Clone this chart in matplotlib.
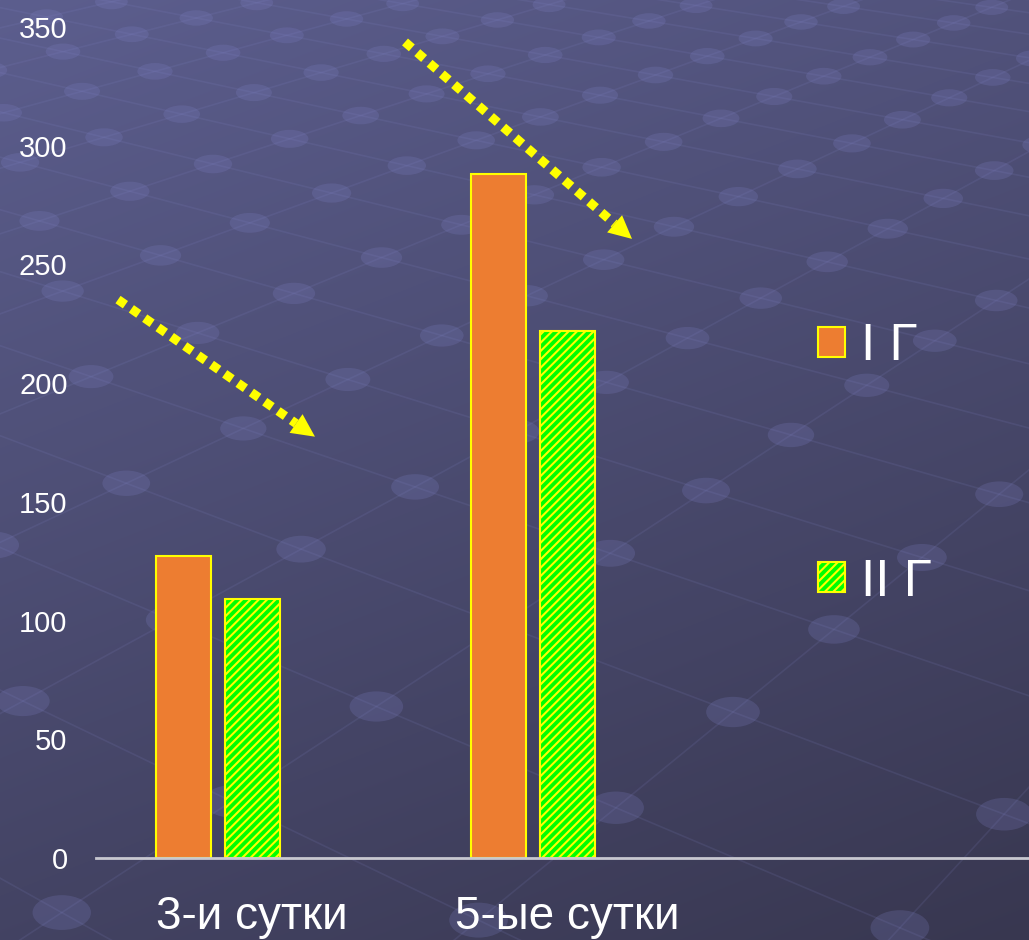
import numpy as np
import matplotlib.pyplot as plt
from matplotlib.patches import Ellipse
from matplotlib.collections import LineCollection
from matplotlib.transforms import ScaledTranslation

plt.rcParams['font.family'] = ['Liberation Sans', 'DejaVu Sans']
plt.rcParams['hatch.linewidth'] = 1.5

# данные
categories = ['3-и сутки', '5-ые сутки']
group_1 = [127, 288]
group_2 = [109, 222]
series_labels = ['I Г', 'II Г']
yticks = [0, 50, 100, 150, 200, 250, 300, 350]

ORANGE = '#ED7D31'
GREEN = '#00FF00'
YELLOW = '#FFFF00'

W, H = 1029, 940
fig = plt.figure(figsize=(W / 100, H / 100), dpi=100)

# --- фон: градиент + "сетка с точками" в перспективе ---
bg = fig.add_axes([0, 0, 1, 1], zorder=0)
bg.set_xlim(0, W)
bg.set_ylim(H, 0)
bg.axis('off')

yy, xx = np.mgrid[0:H, 0:W]
t = 0.3 * xx / W + 0.7 * yy / H
c_top = np.array([92, 94, 142]) / 255
c_bot = np.array([56, 55, 80]) / 255
bg.imshow(c_top + (c_bot - c_top) * t[..., None], extent=(0, W, H, 0),
          aspect='auto', interpolation='bilinear')

VA = np.array([-2450.0, -488.0])
VB = np.array([2200.0, -488.0])
O = np.array([733.0, 712.0])
k1, k2 = 0.0785, 0.0739


def proj(u, v):
    d = 1 + k1 * u + k2 * v
    px = (k1 * u * VA[0] + k2 * v * VB[0] + O[0]) / d
    py = (k1 * u * VA[1] + k2 * v * VB[1] + O[1]) / d
    return px, py, d


segs = []
for n in range(-25, 45):
    # линии вдоль u (к левой точке схода)
    u_lo = (0.35 - 1 - k2 * n) / k1
    x0, y0, _ = proj(u_lo, n)
    x1, y1, _ = proj(400, n)
    segs.append([(x0, y0), (x1, y1)])
    # линии вдоль v (к правой точке схода)
    v_lo = (0.35 - 1 - k1 * n) / k2
    x0, y0, _ = proj(n, v_lo)
    x1, y1, _ = proj(n, 400)
    segs.append([(x0, y0), (x1, y1)])
bg.add_collection(LineCollection(segs, colors=(0.51, 0.52, 0.78), alpha=0.14, lw=1.2))

for u in range(-25, 45):
    for v in range(-25, 45):
        px, py, d = proj(u, v)
        if d < 0.6 or d > 4 or not (-60 < px < W + 60 and -40 < py < H + 40):
            continue
        w = 56 * (0.925 / d) ** 0.55
        h = w * (0.47 + 0.11 * (py - 68) / 742)
        bg.add_patch(Ellipse((px, py), w, h, facecolor=(0.50, 0.51, 0.78),
                             alpha=0.22, lw=0))

# --- диаграмма ---
ax = fig.add_axes([96 / W, 1 - 858 / H, 1 - 96 / W, (858 - 27) / H], zorder=1)
ax.patch.set_alpha(0)

x = np.arange(len(categories))
bw = 0.175
off = 0.1095
ax.bar(x - off, group_1, bw, color=ORANGE, edgecolor=YELLOW, lw=1.5,
       label=series_labels[0])
ax.bar(x + off, group_2, bw, color=GREEN, edgecolor=YELLOW, lw=1.5,
       hatch='////', label=series_labels[1])

ax.set_xlim(-0.387, 2.575)
ax.set_ylim(0, 350)
for s in ['top', 'right', 'left']:
    ax.spines[s].set_visible(False)
ax.spines['bottom'].set_color('#c8c8d0')
ax.spines['bottom'].set_linewidth(2)

ax.set_yticks(yticks)
ax.set_xticks(x)
ax.set_xticklabels(categories)
ax.tick_params(axis='y', length=0, pad=20.5, labelsize=21, labelcolor='white')
ax.tick_params(axis='x', length=0, pad=26.5, labelsize=33, labelcolor='white')
for lbl in ax.get_xticklabels():
    lbl.set_transform(lbl.get_transform() + ScaledTranslation(0.34, 0, fig.dpi_scale_trans))

ax.legend(loc='upper left', bbox_to_anchor=(818 / W, 1 - 322 / H),
          bbox_transform=fig.transFigure, frameon=False, fontsize=37,
          handlelength=0.53, handleheight=0.53, handletextpad=0.3,
          labelspacing=3.63, borderpad=0, borderaxespad=0, labelcolor='white')

# пунктирные стрелки
arrows = [((0.0236, 0.672), (0.2347, 0.507)),
          ((0.3312, 0.982), (0.5745, 0.745))]
head_px = 23
for start, tip in arrows:
    p0 = ax.transAxes.transform(start)
    p1 = ax.transAxes.transform(tip)
    direc = (p1 - p0) / np.hypot(*(p1 - p0))
    base = ax.transAxes.inverted().transform(p1 - direc * head_px)
    ax.plot([start[0], base[0]], [start[1], base[1]], transform=ax.transAxes,
            color=YELLOW, lw=6.5, linestyle=(0, (1, 0.8)),
            dash_capstyle='butt', clip_on=False)
    ax.annotate('', xy=tip, xytext=base, xycoords='axes fraction',
                textcoords='axes fraction',
                arrowprops=dict(arrowstyle='-|>,head_length=0.83,head_width=0.41',
                                color=YELLOW, lw=0, mutation_scale=20,
                                shrinkA=0, shrinkB=0))

fig.savefig('out.png', dpi=100)
